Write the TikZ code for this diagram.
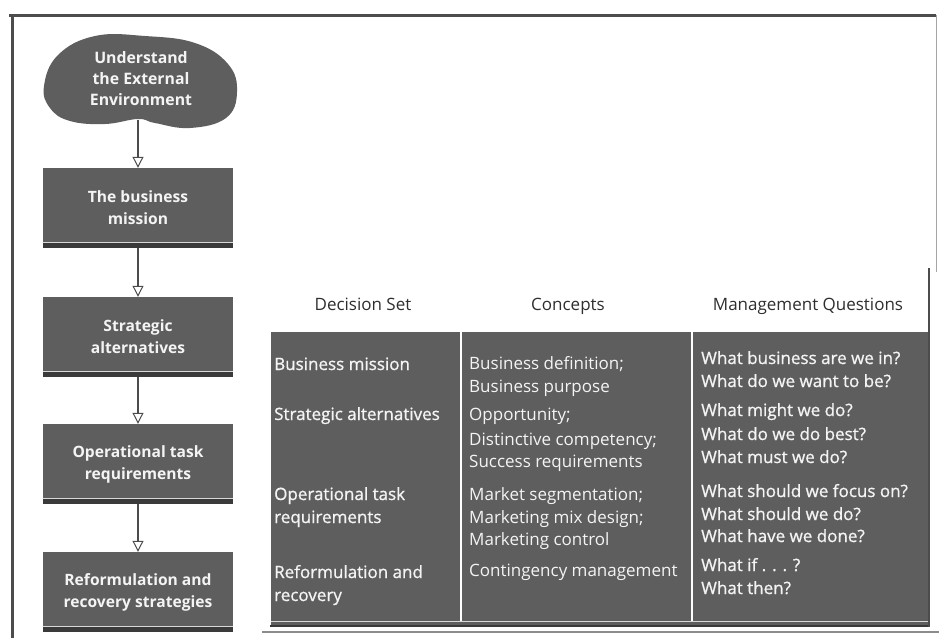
\documentclass[tikz,border=0pt]{standalone}
\usepackage{fontspec}
\setmainfont{Open Sans}
\newfontfamily\semibold[FakeBold=0.9]{Open Sans}
\usetikzlibrary{arrows.meta}
\definecolor{panel}{HTML}{5E5E5E}
\definecolor{panelink}{HTML}{F4F4F4}
\definecolor{frameink}{HTML}{4C4C4C}
\definecolor{headink}{HTML}{2E2E2E}
\definecolor{lipdark}{HTML}{3A3A3A}
\definecolor{liplight}{HTML}{D8D8D8}

\begin{document}
\begin{tikzpicture}[x=1pt,y=-1pt,
  stage/.style={fill=panel, minimum width=190pt, minimum height=80pt,
    inner sep=0pt, text=panelink, align=center,
    font=\bfseries\fontsize{15.6}{22}\selectfont},
  flow/.style={draw=frameink, line width=1.1pt,
    -{Triangle[open, length=11pt, width=11pt, line width=1pt, fill=white]}},
  cell/.style={anchor=base west, inner sep=0pt, text=panelink,
    font=\fontsize{17}{21}\selectfont},
  cellbold/.style={cell, font=\semibold\fontsize{17}{21}\selectfont},
  head/.style={anchor=base, inner sep=0pt, text=headink,
    font=\fontsize{17}{21}\selectfont},
]
\useasboundingbox (0,0) rectangle (939,638);

% outer frame
\draw[frameink, line width=3pt] (9,15) -- (936,15);
\draw[frameink, line width=3pt] (12,15) -- (12,638);
\draw[black!35, line width=1pt] (936,15) -- (936,272);

% environment blob
\fill[panel] plot[smooth cycle, tension=0.7] coordinates {
  (44,86) (58,55) (95,36) (145,36) (195,43) (228,64) (237,92)
  (226,118) (190,128) (155,123) (138,119) (105,124) (70,121) (50,108)};
\coordinate (envbot) at (138,120);
\node[text=panelink, align=center, inner sep=0pt,
  font=\bfseries\fontsize{15.8}{21}\selectfont] (env) at (141,79)
  {Understand\\the External\\Environment};

% process boxes
\node[stage] (mission) at (138,208) {The business\\mission};
\node[stage] (alts)    at (138,337) {Strategic\\alternatives};
\node[stage] (ops)     at (138,464) {Operational task\\requirements};
\node[stage] (reform)  at (138,592) {Reformulation and\\recovery strategies};

% bottom lip of each box
\foreach \b in {mission,alts,ops,reform}{
  \fill[lipdark] ([yshift=5pt]\b.south west) rectangle (\b.south east);
  \draw[liplight, line width=1pt] ([yshift=5.5pt]\b.south west) -- ([yshift=5.5pt]\b.south east);
}

% connectors
\draw[flow] (envbot) -- (mission.north);
\draw[flow] (mission.south) -- (alts.north);
\draw[flow] (alts.south) -- (ops.north);
\draw[flow] (ops.south) -- (reform.north);

% table
\fill[panel] (271,332) rectangle (929,626);
\draw[liplight, line width=1pt] (271,621) -- (929,621);
\draw[lipdark, line width=2.5pt] (270,626) -- (930,626);
\draw[frameink, line width=2.5pt] (929,268) -- (929,627);
\draw[black!45, line width=1.5pt] (262,632) -- (939,632);
\draw[white, line width=1.5pt] (461,332) -- (461,621);
\draw[white, line width=1.5pt] (692,332) -- (692,621);

% column headings
\node[head] (hdset)  at (363,310) {Decision Set};
\node[head] (hconc)  at (568,310) {Concepts};
\node[head] (hquest) at (808,310) {Management Questions};

% decision set
\foreach \t/\y [count=\i] in {
  Business mission/370, Strategic alternatives/420,
  Operational task/500, requirements/523,
  Reformulation and/578, recovery/601}
  \node[cellbold] (dset\i) at (274,\y) {\t};

% concepts
\foreach \t/\y [count=\i] in {
  Business definition;/369, Business purpose/392,
  Opportunity;/420, Distinctive competency;/445, Success requirements/467,
  Market segmentation;/500, Marketing mix design;/523, Marketing control/545,
  Contingency management/576}
  \node[cell] (conc\i) at (469,\y) {\t};

% management questions
\foreach \t/\y [count=\i] in {
  What business are we in?/364, What do we want to be?/387,
  What might we do?/416, What do we do best?/440, What must we do?/463,
  What should we focus on?/497, What should we do?/520, What have we done?/542,
  What if . . . ?/571, What then?/594}
  \node[cellbold] (quest\i) at (701,\y) {\t};
\end{tikzpicture}
\end{document}
